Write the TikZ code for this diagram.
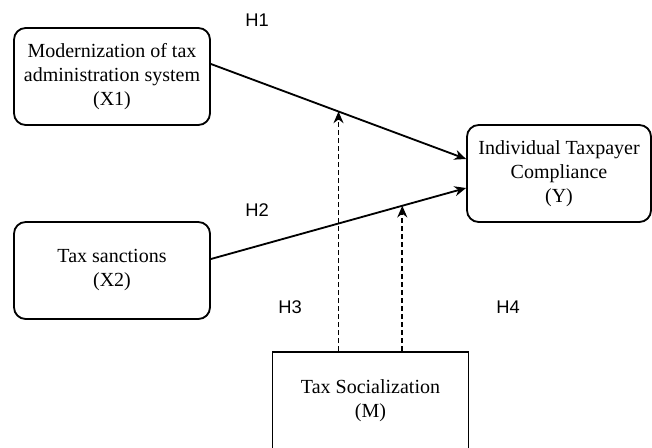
\documentclass[tikz,border=0pt]{standalone}
\usepackage{fontspec}
\setmainfont{Liberation Serif}
\newfontfamily\hypfont{Liberation Sans}
\usetikzlibrary{arrows.meta}

\begin{document}
\begin{tikzpicture}[
    x=0.6pt, y=-0.6pt,
    var/.style={draw, line width=1.1pt, rounded corners=7pt, align=center,
        minimum width=117.6pt, minimum height=58.2pt, inner sep=0pt,
        font=\fontsize{12}{14.4}\selectfont},
    med/.style={var, rounded corners=0pt},
    effect/.style={line width=1.1pt, -{Stealth[length=7pt,width=6pt]}},
    modline/.style={effect, line width=1pt, dash pattern=on 3pt off 1.8pt},
    hyp/.style={font=\hypfont\fontsize{11}{13}\selectfont}
    ]
    \clip (0,0) rectangle (652,447);

    \node[var] (x1) at (112,76.5) {Modernization of tax\\administration system\\(X1)};
    \node[var] (x2) at (112,270.5) {Tax sanctions\\(X2)};
    \node[var, minimum width=110.4pt] (y) at (559,173.5) {Individual Taxpayer\\Compliance\\(Y)};
    \node[med] (m) at (370.5,400.5) {Tax Socialization\\(M)};

    \draw[effect] ([yshift=7.5pt]x1.east) -- ([yshift=8.7pt]y.west) coordinate[pos=0.5] (h3pt);
    \draw[effect] ([yshift=6.9pt]x2.east) -- ([yshift=-8.7pt]y.west) coordinate[pos=0.75] (h4pt);

    % moderation
    \draw[modline] (h3pt |- m.north) -- (h3pt);
    \draw[modline] (h4pt |- m.north) -- (h4pt);

    \node[hyp] (h1) at (257,20) {H1};
    \node[hyp] (h2) at (257,210) {H2};
    \node[hyp] (h3) at (290,307) {H3};
    \node[hyp] (h4) at (508,307) {H4};
\end{tikzpicture}
\end{document}
